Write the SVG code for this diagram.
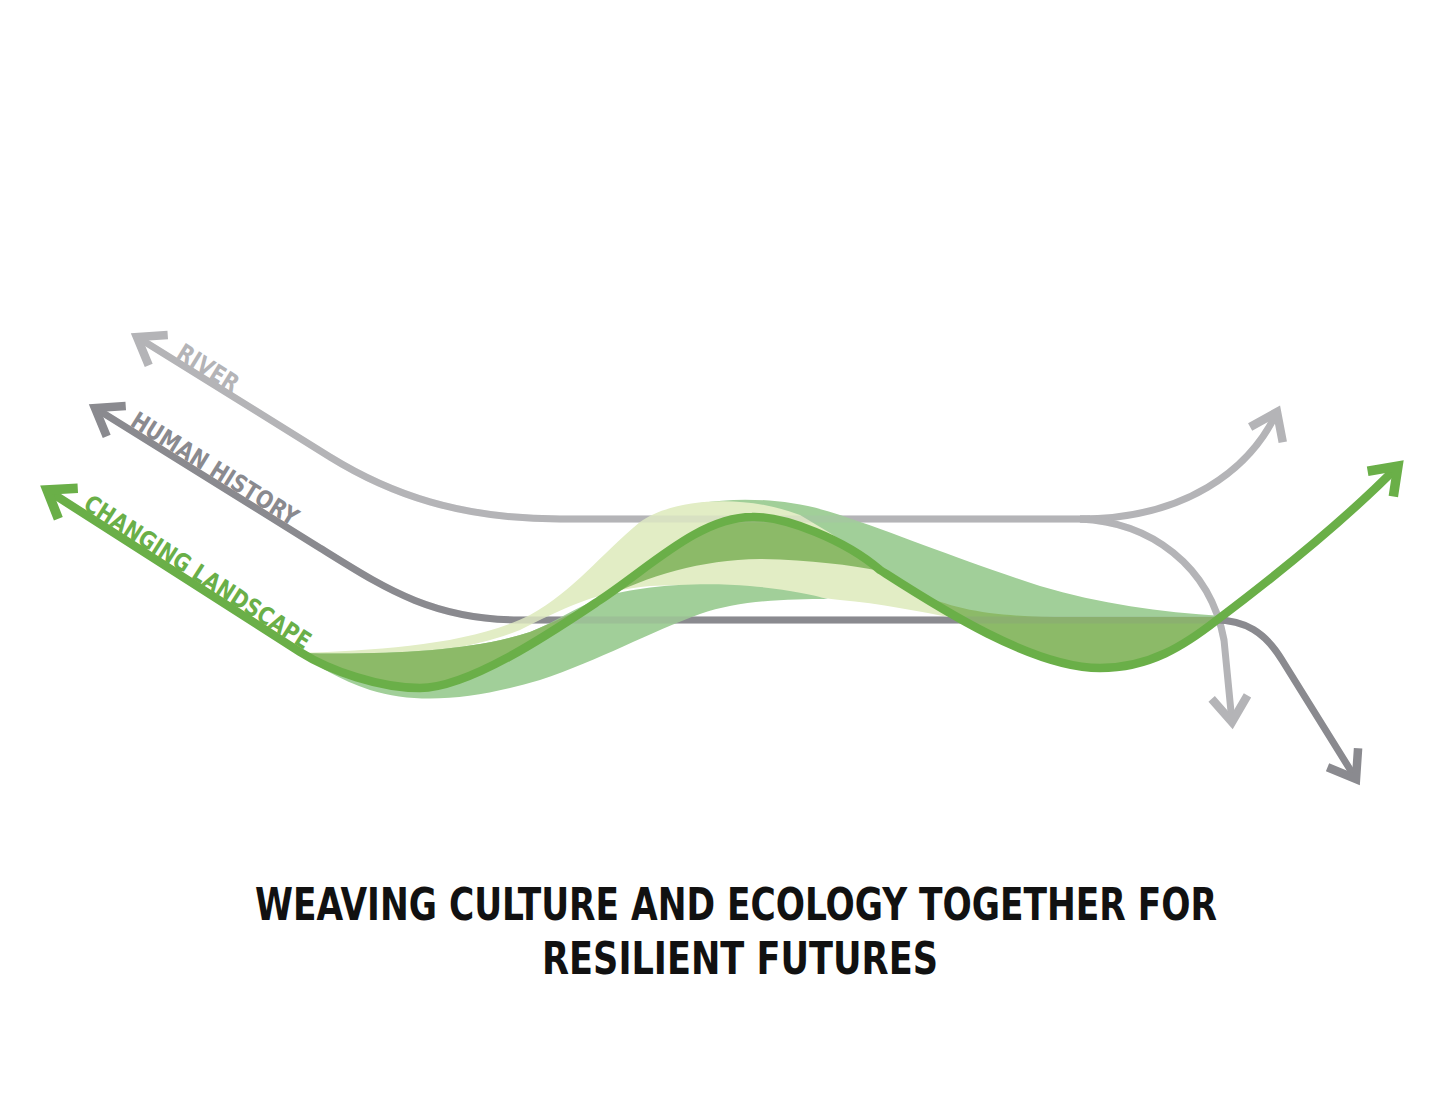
<svg xmlns="http://www.w3.org/2000/svg" width="1449" height="1120" viewBox="0 0 1449 1120">
<style>
.river{fill:none;stroke:#b4b4b7;stroke-width:7}
.human{fill:none;stroke:#8a8a8f;stroke-width:7}
.green{fill:none;stroke:#6aaf48;stroke-width:8.5}
.ghost{opacity:0.2}
.lbl{font-family:"Liberation Sans Narrow","DejaVu Sans Condensed","Roboto Condensed","Liberation Sans",sans-serif;font-weight:bold;font-size:24px}
.title{font-family:"Liberation Sans Narrow","DejaVu Sans Condensed","Roboto Condensed","Liberation Sans",sans-serif;font-weight:bold;font-size:44px;fill:#111}
.yel{fill:#e2edc5}
.med{fill:#a1cf99}
.oli{fill:#8cba68}
</style>
<defs>
<marker id="ah-river" markerUnits="userSpaceOnUse" markerWidth="80" markerHeight="80" viewBox="-40 -40 80 80" refX="0" refY="0" orient="auto-start-reverse" overflow="visible">
<path d="M -25 -18 L 0 0 L -25 18" fill="none" stroke="#b4b4b7" stroke-width="8.5"/>
</marker>
<marker id="ah-human" markerUnits="userSpaceOnUse" markerWidth="80" markerHeight="80" viewBox="-40 -40 80 80" refX="0" refY="0" orient="auto-start-reverse" overflow="visible">
<path d="M -25 -18 L 0 0 L -25 18" fill="none" stroke="#8a8a8f" stroke-width="8.5"/>
</marker>
<marker id="ah-green" markerUnits="userSpaceOnUse" markerWidth="80" markerHeight="80" viewBox="-40 -40 80 80" refX="0" refY="0" orient="auto-start-reverse" overflow="visible">
<path d="M -25 -18 L 0 0 L -25 18" fill="none" stroke="#6aaf48" stroke-width="9.5"/>
</marker>
</defs>
<rect width="1449" height="1120" fill="#ffffff"/>

<g id="connectors">
<g id="river">
<path class="river" d="M 137 337 L 330 457 C 390 494 460 519 560 519 L 1090 519" marker-start="url(#ah-river)"/>
<path class="river" d="M 1080 519 C 1185 519 1250 470 1277 412" marker-end="url(#ah-river)"/>
<path class="river" d="M 1080 519 C 1150 522 1210 565 1224 640 L 1232 722" marker-end="url(#ah-river)"/>
</g>
<g id="human-history">
<path class="human" d="M 95 408 L 320 548 C 380 585 430 620 520 620 L 1215 620 C 1245 620 1265 632 1282 660 L 1356 779" marker-start="url(#ah-human)" marker-end="url(#ah-human)"/>
</g>
</g>

<g id="ribbons">
<path class="med" d="M 700 503 C 740 497 790 498 840 515 C 900 535 960 560 1040 586 C 1100 604 1160 612 1222 616 L 1217 620 C 1185 645 1150 668 1100 668 C 1030 668 930 602 880 570 C 845 540 785 516 752 517 C 730 517 712 510 700 503 Z"/>
<path class="yel" d="M 300 653 C 380 650 470 645 530 615 C 575 590 600 555 640 522 C 670 500 740 492 800 515 L 830 533 L 870 560 L 955 618 C 920 612 880 603 840 600 C 790 594 720 582 650 586 C 600 590 560 610 520 630 C 470 650 400 660 300 653 Z"/>
<path class="med" d="M 300 653 C 380 655 470 652 530 632 C 555 622 575 608 600 598 C 640 585 700 582 750 586 C 785 589 810 594 828 599 C 790 599 740 600 700 614 C 650 632 600 660 540 680 C 480 698 420 706 370 690 C 340 680 315 665 300 653 Z"/>
<path class="oli" d="M 300 653 C 380 655 470 652 530 632 C 555 622 572 612 590 606 L 600 600 C 555 630 470 688 420 688 C 380 688 330 671 300 652 Z"/>
<path class="oli" d="M 600 600 C 650 567 700 517 752 517 C 785 516 845 540 880 571 C 850 565 810 560 760 559 C 700 560 650 575 600 600 Z"/>
<path class="oli" d="M 915 592 C 960 612 1000 617 1070 617 L 1222 617 L 1217 620 C 1185 645 1150 668 1100 668 C 1030 668 930 602 915 592 Z"/>
</g>

<g id="ghost-lines" class="ghost">
<path class="river" d="M 330 457 C 390 494 460 519 560 519 L 1090 519"/>
<path class="river" d="M 1080 519 C 1150 522 1210 565 1224 640"/>
<path class="human" d="M 320 548 C 380 585 430 620 520 620 L 1215 620 C 1245 620 1265 632 1282 660"/>
</g>

<g id="changing-landscape">
<path class="green" d="M 47 490 L 300 652 C 330 671 380 688 420 688 C 470 688 555 630 600 600 C 650 567 700 517 752 517 C 785 516 845 540 880 570 C 930 602 1030 668 1100 668 C 1150 668 1185 645 1217 620 C 1270 580 1345 520 1398 466" marker-start="url(#ah-green)" marker-end="url(#ah-green)"/>
</g>

<g id="labels">
<text id="label-river" class="lbl" fill="#b4b4b7" transform="translate(175,357) rotate(31.8)" textLength="68" lengthAdjust="spacingAndGlyphs">RIVER</text>
<text id="label-human" class="lbl" fill="#8a8a8f" transform="translate(129,425) rotate(31.9)" textLength="192" lengthAdjust="spacingAndGlyphs">HUMAN HISTORY</text>
<text id="label-landscape" class="lbl" fill="#6aaf48" transform="translate(82,508) rotate(32.6)" textLength="264" lengthAdjust="spacingAndGlyphs">CHANGING LANDSCAPE</text>
</g>

<g id="title">
<text class="title" x="255" y="920" textLength="962" lengthAdjust="spacingAndGlyphs">WEAVING CULTURE AND ECOLOGY TOGETHER FOR</text>
<text class="title" x="542" y="974" textLength="396" lengthAdjust="spacingAndGlyphs">RESILIENT FUTURES</text>
</g>
</svg>
